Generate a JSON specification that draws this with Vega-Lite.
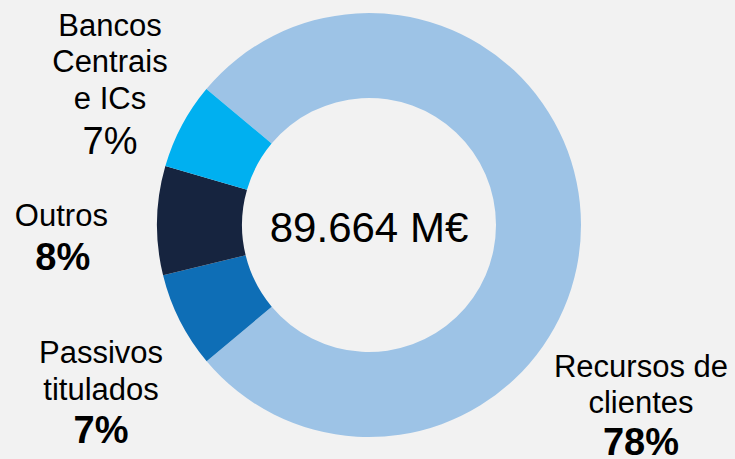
{
  "$schema": "https://vega.github.io/schema/vega-lite/v6.json",
  "autosize": "none",
  "width": 732,
  "height": 450,
  "padding": {"left": 3, "top": 0, "right": 0, "bottom": 9},
  "background": "#f2f2f2",
  "config": {"view": {"stroke": null}, "font": "Liberation Sans"},
  "data": {
    "values": [
      {"category": "Recursos de clientes", "name": "Recursos de\nclientes", "pct": "78%", "value": 77.8, "rank": 1},
      {"category": "Passivos titulados", "name": "Passivos\ntitulados", "pct": "7%", "value": 7.3, "rank": 2},
      {"category": "Outros", "name": "Outros", "pct": "8%", "value": 8.3, "rank": 3},
      {"category": "Bancos Centrais e ICs", "name": "Bancos\nCentrais\ne ICs", "pct": "7%", "value": 6.6, "rank": 4}
    ]
  },
  "transform": [
    {"stack": "value", "groupby": [], "sort": [{"field": "rank", "order": "ascending"}], "as": ["t0", "t1"]}
  ],
  "layer": [
    {
      "mark": {"type": "arc", "innerRadius": 127, "outerRadius": 212},
      "encoding": {
        "theta": {"field": "t0", "type": "quantitative", "scale": {"domain": [0, 100], "range": [5.4088, 11.692]}},
        "theta2": {"field": "t1"},
        "color": {
          "field": "category", "type": "nominal", "legend": null,
          "scale": {
            "domain": ["Recursos de clientes", "Passivos titulados", "Outros", "Bancos Centrais e ICs"],
            "range": ["#9dc3e6", "#0e6eb6", "#16243f", "#00b0f0"]
          }
        }
      }
    },
    {
      "transform": [{"filter": "datum.category === 'Bancos Centrais e ICs'"}],
      "mark": {"type": "text", "radius": 212, "fontSize": 31, "lineHeight": 36.2, "lineBreak": "\n", "align": "center", "baseline": "alphabetic", "dx": -55.4, "dy": -129.9, "color": "#000000"},
      "encoding": {"theta": {"field": "t0", "type": "quantitative"}, "text": {"field": "name"}}
    },
    {
      "transform": [{"filter": "datum.category === 'Bancos Centrais e ICs'"}],
      "mark": {"type": "text", "radius": 212, "fontSize": 38, "align": "center", "baseline": "alphabetic", "dx": -55.4, "dy": -11.9, "color": "#000000"},
      "encoding": {"theta": {"field": "t0", "type": "quantitative"}, "text": {"field": "pct"}}
    },
    {
      "transform": [{"filter": "datum.category === 'Outros'"}],
      "mark": {"type": "text", "radius": 212, "fontSize": 31, "align": "center", "baseline": "alphabetic", "dx": -101.7, "dy": -49.2, "color": "#000000"},
      "encoding": {"theta": {"field": "t0", "type": "quantitative"}, "text": {"field": "name"}}
    },
    {
      "transform": [{"filter": "datum.category === 'Outros'"}],
      "mark": {"type": "text", "radius": 212, "fontSize": 38, "fontWeight": "bold", "align": "center", "baseline": "alphabetic", "dx": -100.3, "dy": -5.2, "color": "#000000"},
      "encoding": {"theta": {"field": "t0", "type": "quantitative"}, "text": {"field": "pct"}}
    },
    {
      "transform": [{"filter": "datum.category === 'Passivos titulados'"}],
      "mark": {"type": "text", "radius": 212, "fontSize": 31, "lineHeight": 37.3, "lineBreak": "\n", "align": "center", "baseline": "alphabetic", "dx": -105.6, "dy": 1.4, "color": "#000000"},
      "encoding": {"theta": {"field": "t0", "type": "quantitative"}, "text": {"field": "name"}}
    },
    {
      "transform": [{"filter": "datum.category === 'Passivos titulados'"}],
      "mark": {"type": "text", "radius": 212, "fontSize": 38, "fontWeight": "bold", "align": "center", "baseline": "alphabetic", "dx": -105.6, "dy": 82, "color": "#000000"},
      "encoding": {"theta": {"field": "t0", "type": "quantitative"}, "text": {"field": "pct"}}
    },
    {
      "transform": [{"filter": "datum.category === 'Recursos de clientes'"}],
      "mark": {"type": "text", "radius": 212, "fontSize": 31, "lineHeight": 35.4, "lineBreak": "\n", "align": "center", "baseline": "alphabetic", "dx": 434.6, "dy": 288.3, "color": "#000000"},
      "encoding": {"theta": {"field": "t0", "type": "quantitative"}, "text": {"field": "name"}}
    },
    {
      "transform": [{"filter": "datum.category === 'Recursos de clientes'"}],
      "mark": {"type": "text", "radius": 212, "fontSize": 38, "fontWeight": "bold", "align": "center", "baseline": "alphabetic", "dx": 434.6, "dy": 366, "color": "#000000"},
      "encoding": {"theta": {"field": "t0", "type": "quantitative"}, "text": {"field": "pct"}}
    },
    {
      "transform": [{"aggregate": [{"op": "sum", "field": "value", "as": "total"}]}],
      "mark": {"type": "text", "fontSize": 42, "align": "center", "baseline": "alphabetic", "dy": 16.7, "color": "#000000", "text": "89.664 M€"},
      "encoding": {}
    }
  ]
}
